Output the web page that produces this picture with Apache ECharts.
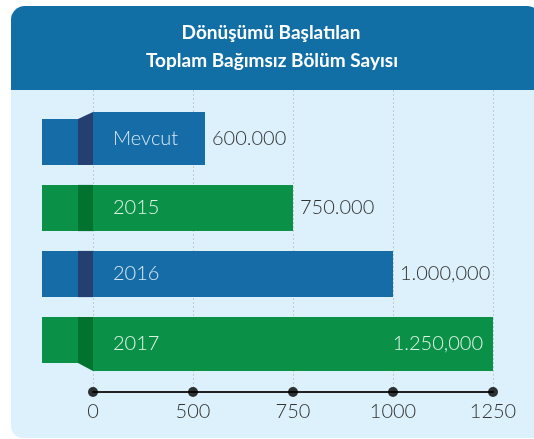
<!DOCTYPE html>
<html>
<head>
<meta charset="utf-8">
<script src="https://cdn.jsdelivr.net/npm/echarts@6/dist/echarts.min.js"></script>
<style>
  html, body { margin: 0; padding: 0; background: #fff; }
  #chart { width: 534px; height: 439px; }
</style>
</head>
<body>
<div id="chart"></div>
<script>
const titleLines = ['Dönüşümü Başlatılan', 'Toplam Bağımsız Bölüm Sayısı'];
const categories = ['Mevcut', '2015', '2016', '2017'];
const valueLabels = ['600.000', '750.000', '1.000,000', '1.250,000'];
// bar lengths as drawn, in axis tick steps (the printed axis is not linear)
const barLengths = [1.12, 2, 3, 4];
const tickLabels = ['0', '500', '750', '1000', '1250'];

const BLUE = '#156ca6', BLUE_DARK = '#243f70';
const GREEN = '#0a9147', GREEN_DARK = '#02732f';
const FONT = 'Lato, "Open Sans", sans-serif';

const chart = echarts.init(document.getElementById('chart'));

function renderBar (params, api) {
  const i = params.dataIndex;
  const last = categories.length - 1;
  const start = api.coord([0, i]);
  const end = api.coord([api.value(0), i]);
  const band = api.size([0, 1])[1];
  const h = band * 0.70;
  const top = start[1] - h / 2;
  const bot = start[1] + h / 2;
  // first bar folds up, last bar folds down, like a ribbon
  const mainTop = i === 0 ? top - 7 : top;
  const mainBot = i === last ? bot + 8 : bot;
  const mid = (mainTop + mainBot) / 2;
  const x0 = start[0];
  const color = i % 2 ? GREEN : BLUE;
  const dark = i % 2 ? GREEN_DARK : BLUE_DARK;
  const inside = i === last;
  return {
    type: 'group',
    children: [
      { type: 'rect', shape: { x: x0 - 51, y: top, width: 36, height: bot - top }, style: { fill: color } },
      { type: 'polygon', shape: { points: [[x0 - 15, top], [x0, mainTop], [x0, mainBot], [x0 - 15, bot]] }, style: { fill: dark } },
      { type: 'rect', shape: { x: x0, y: mainTop, width: end[0] - x0, height: mainBot - mainTop }, style: { fill: color } },
      {
        type: 'text',
        style: {
          text: categories[i], x: x0 + 20, y: mid,
          fill: i % 2 ? '#dff3e6' : '#d6e8f5',
          fontSize: 20, fontFamily: FONT, fontWeight: 300,
          align: 'left', verticalAlign: 'middle'
        }
      },
      {
        type: 'text',
        style: {
          text: valueLabels[i], x: inside ? end[0] - 10 : end[0] + 7, y: mid,
          fill: inside ? '#dff3e6' : '#333',
          fontSize: 20, fontFamily: FONT, fontWeight: 300,
          align: inside ? 'right' : 'left', verticalAlign: 'middle'
        }
      }
    ]
  };
}

const option = {
  animation: false,
  graphic: {
    elements: [
      {
        type: 'rect', z: -10,
        shape: { x: 11, y: 6, width: 530, height: 432, r: [14, 14, 0, 12] },
        style: { fill: '#dcf1fc' }
      },
      {
        type: 'rect', z: -9,
        shape: { x: 11, y: 6, width: 530, height: 84, r: [14, 14, 0, 0] },
        style: { fill: '#126fa5' }
      },
      {
        type: 'text', z: 10, x: 271, y: 33,
        style: { text: titleLines[0], fill: '#fff', fontSize: 19, fontWeight: 'bold', fontFamily: FONT, align: 'center', verticalAlign: 'middle' }
      },
      {
        type: 'text', z: 10, x: 272, y: 61,
        style: { text: titleLines[1], fill: '#fff', fontSize: 19, fontWeight: 'bold', fontFamily: FONT, align: 'center', verticalAlign: 'middle' }
      }
    ]
  },
  grid: [
    { left: 93, right: 41, top: 90, bottom: 47 },
    { left: 93, right: 41, top: 109, bottom: 66 }
  ],
  xAxis: [
    {
      gridIndex: 0,
      type: 'value',
      min: 0,
      max: tickLabels.length - 1,
      interval: 1,
      axisLine: { show: true, lineStyle: { color: '#222', width: 2 } },
      axisTick: { show: false },
      axisLabel: {
        formatter: v => tickLabels[v],
        color: '#333',
        fontSize: 20,
        fontWeight: 300,
        fontFamily: FONT,
        margin: 10
      },
      splitLine: { show: true, lineStyle: { color: '#c2cbd4', type: [2, 2] } }
    },
    { gridIndex: 1, type: 'value', min: 0, max: tickLabels.length - 1, show: false }
  ],
  yAxis: [
    { gridIndex: 0, type: 'value', min: 0, max: 1, show: false },
    { gridIndex: 1, type: 'category', data: categories, inverse: true, show: false }
  ],
  series: [
    {
      type: 'custom',
      xAxisIndex: 1,
      yAxisIndex: 1,
      renderItem: renderBar,
      encode: { x: 0, y: 1 },
      data: barLengths.map((v, i) => [v, i]),
      z: 5
    },
    {
      type: 'scatter',
      xAxisIndex: 0,
      yAxisIndex: 0,
      symbolSize: 10,
      clip: false,
      itemStyle: { color: '#000' },
      data: tickLabels.map((t, i) => [i, 0]),
      z: 6
    }
  ]
};

chart.setOption(option);
</script>
</body>
</html>
